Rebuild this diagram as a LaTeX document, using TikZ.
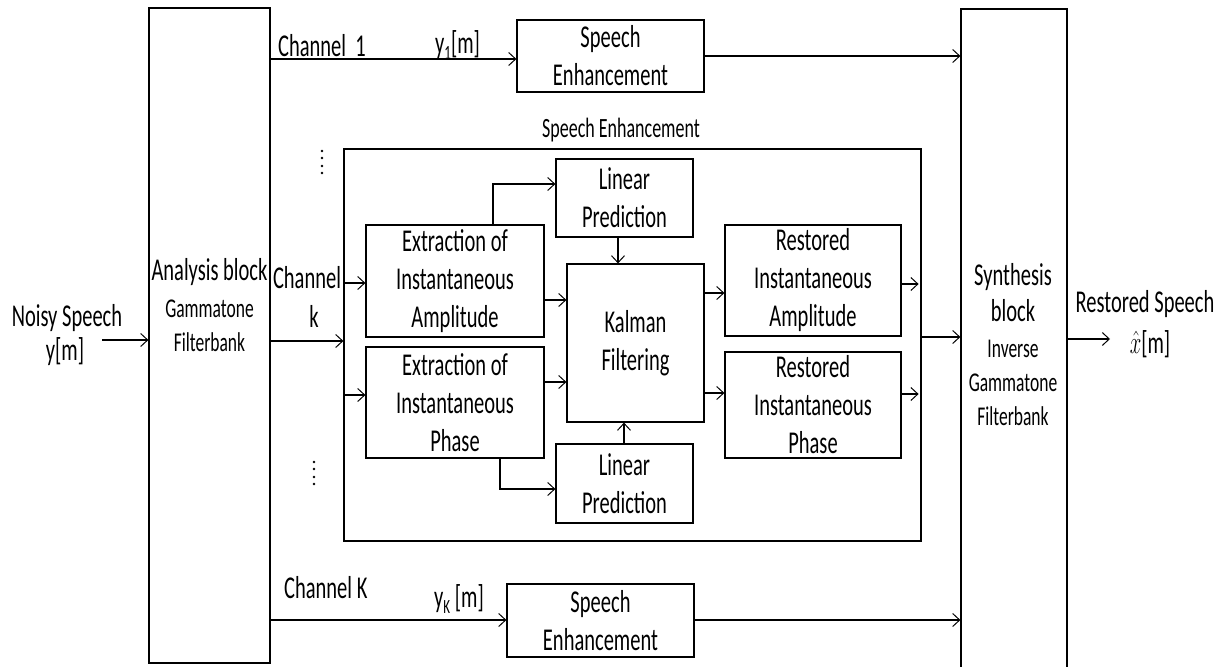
\documentclass[tikz,border=0pt]{standalone}
\usepackage{fontspec}
\setmainfont{Carlito}
\usepackage{graphicx}
\usetikzlibrary{arrows.meta}
\newcommand{\vs}[1]{\scalebox{1}[1.55]{#1}}
\newcommand{\bigf}{\fontsize{20.5}{38}\selectfont}
\newcommand{\smallf}{\fontsize{17.5}{34}\selectfont}
\tikzset{
  box/.style={draw, line width=1.2pt, inner sep=0pt, align=center, font=\bigf},
  txt/.style={inner sep=0pt, align=center, font=\bigf},
  arr/.style={line width=1.2pt, -{Straight Barb[length=7pt,width=13pt,line width=1pt]}},
  ln/.style={line width=1.2pt},
  dotm/.style={fill=black}
}
\begin{document}
\begin{tikzpicture}[x=1pt,y=-1pt]
\useasboundingbox (0,0) rectangle (1227,667);

% main blocks
\node[box, minimum width=121pt, minimum height=655pt] (ana) at (209.5,335.5) {};
\node[box, minimum width=106pt, minimum height=660pt] (syn) at (1014,339) {};
\node[box, minimum width=187pt, minimum height=72pt] (se1) at (610.5,56) {\vs{Speech}\\\vs{Enhancement}};
\node[box, minimum width=187pt, minimum height=73pt] (sek) at (600.5,620.5) {\vs{Speech}\\\vs{Enhancement}};
\node[box, minimum width=577pt, minimum height=392pt] (big) at (632.5,345) {};

% inner blocks
\node[box, minimum width=178pt, minimum height=112pt] (ea) at (455,281) {\vs{Extraction of}\\\vs{Instantaneous}\\\vs{Amplitude}};
\node[box, minimum width=178pt, minimum height=111pt] (ep) at (455,402.5) {\vs{Extraction of}\\\vs{Instantaneous}\\\vs{Phase}};
\node[box, minimum width=137pt, minimum height=78pt] (lp1) at (624.5,198) {\vs{Linear}\\\vs{Prediction}};
\node[box, minimum width=137pt, minimum height=158pt] (kal) at (635.5,343) {\vs{Kalman}\\\vs{Filtering}};
\node[box, minimum width=137pt, minimum height=79pt] (lp2) at (624.5,483.5) {\vs{Linear}\\\vs{Prediction}};
\node[box, minimum width=176pt, minimum height=111pt] (ra) at (813,280.5) {\vs{Restored}\\\vs{Instantaneous}\\\vs{Amplitude}};
\node[box, minimum width=176pt, minimum height=106pt] (rp) at (813,405) {\vs{Restored}\\\vs{Instantaneous}\\\vs{Phase}};

% texts in tall blocks
\node[txt, anchor=base] (anat1) at (209.5,280) {\vs{Analysis block}};
\node[txt, anchor=base, font=\smallf] (anat2) at (209.5,317) {\vs{Gammatone}};
\node[txt, anchor=base, font=\smallf] (anat3) at (209.5,351) {\vs{Filterbank}};
\node[txt, anchor=base] (synt1) at (1013,285) {\vs{Synthesis}};
\node[txt, anchor=base] (synt2) at (1013,321) {\vs{block}};
\node[txt, anchor=base, font=\smallf] (synt3) at (1013,357) {\vs{Inverse}};
\node[txt, anchor=base, font=\smallf] (synt4) at (1013,391) {\vs{Gammatone}};
\node[txt, anchor=base, font=\smallf] (synt5) at (1013,425) {\vs{Filterbank}};

% labels
\node[txt, anchor=base] (lnoisy) at (67,326) {\vs{Noisy Speech}};
\node[txt, anchor=base] (lym) at (65,360) {\vs{y[m]}};
\node[txt, anchor=base west] (lch1) at (278,56) {\vs{Channel\ \ 1}};
\node[txt, anchor=base west] (ly1) at (435,53) {\vs{y\raisebox{-0.22em}{\fontsize{13}{13}\selectfont 1}[m]}};
\node[txt, anchor=base, font=\fontsize{18}{20}\selectfont] (lse) at (621,137) {\vs{Speech Enhancement}};
\node[txt, anchor=base] (lchk1) at (307,288) {\vs{Channel}};
\node[txt, anchor=base] (lchk2) at (314,327) {\vs{k}};
\node[txt, anchor=base west] (lchK) at (284,598) {\vs{Channel K}};
\node[txt, anchor=base west] (lyK) at (434,607) {\vs{y\raisebox{-0.22em}{\fontsize{13}{13}\selectfont K} [m]}};
\node[txt, anchor=base] (lrs) at (1145,312) {\vs{Restored Speech}};
\node[txt, anchor=base] (lxh) at (1150,353) {\vs{$\hat{x}$[m]}};

% free ends
\coordinate (nin) at (102,340);
\coordinate (sout) at (1110,339);

% connectors
\draw[arr] (nin) -- (ana.west |- nin);
\draw[arr] (ana.east |- 0,59) -- (se1.west |- 0,59);
\draw[arr] (se1.east |- 0,56) -- (syn.west |- 0,56);
\draw[arr] (ana.east |- 0,620) -- (sek.west |- 0,620);
\draw[arr] (sek.east |- 0,620) -- (syn.west |- 0,620);
\draw[arr] (ana.east |- 0,341) -- (big.west |- 0,341);
\draw[arr] (big.west |- 0,283) -- (ea.west |- 0,283);
\draw[arr] (big.west |- 0,395) -- (ep.west |- 0,395);
\draw[arr] (ea.north -| 493,0) |- (lp1.west |- 0,184);
\draw[arr] (lp1.south -| 618,0) -- (kal.north -| 618,0);
\draw[arr] (ea.east |- 0,300) -- (kal.west |- 0,300);
\draw[arr] (ep.east |- 0,382) -- (kal.west |- 0,382);
\draw[arr] (ep.south -| 500,0) |- (lp2.west |- 0,489);
\draw[arr] (lp2.north -| 624,0) -- (kal.south -| 624,0);
\draw[arr] (kal.east |- 0,293) -- (ra.west |- 0,293);
\draw[arr] (kal.east |- 0,393) -- (rp.west |- 0,393);
\draw[arr] (ra.east |- 0,284) -- ([xshift=-3pt]big.east |- 0,284);
\draw[arr] (rp.east |- 0,394) -- ([xshift=-3pt]big.east |- 0,394);
\draw[arr] (big.east |- 0,337) -- (syn.west |- 0,337);
\draw[arr] (syn.east |- sout) -- (sout);

% vertical dots
\foreach \yy in {151,158,166,173} \fill (322,\yy) circle (1.4pt);
\foreach \yy in {462,469,477,484} \fill (314,\yy) circle (1.4pt);
\end{tikzpicture}
\end{document}
